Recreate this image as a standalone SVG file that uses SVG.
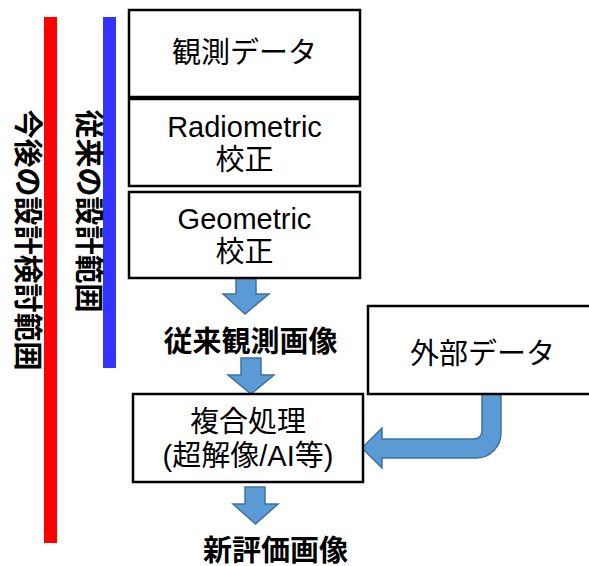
<svg xmlns="http://www.w3.org/2000/svg" width="589" height="566" viewBox="0 0 589 566">
<style>
.t{font-family:"Liberation Sans","Noto Sans CJK JP",sans-serif;font-size:29px;fill:#000;text-anchor:middle}
.b{font-weight:bold}
.box{fill:#fff;stroke:#000;stroke-width:2.5}
.arr{fill:#5B9BD5;stroke:#41719C;stroke-width:1.5;stroke-linejoin:miter}
</style>
<rect width="589" height="566" fill="#fff"/>
<g id="range-future">
<rect x="44" y="17" width="13" height="526" fill="#FF0000"/>
<text class="t b" transform="translate(17,240) rotate(90)">今後の設計検討範囲</text>
</g>
<g id="range-current">
<rect x="103" y="17" width="13" height="351" fill="#3333FF"/>
<text class="t b" transform="translate(78,211) rotate(90)">従来の設計範囲</text>
</g>
<g id="connectors">
<path class="arr" d="M236,278 H256 V294 H269 L245,314 L223,294 H236 Z"/>
<path class="arr" d="M241,358 H261 V375 H274 L251,394 L228,375 H241 Z"/>
<path class="arr" d="M245,487 H265 V504 H278 L255.5,524 L233,504 H245 Z"/>
<path class="arr" d="M482,394 V431 A8,8 0 0 1 474,439 H382 V428 L362,448 L382,468 V458 H476 A25,25 0 0 0 501,433 V394 Z"/>
</g>
<g id="obs-data">
<rect class="box" x="129" y="10" width="231" height="87"/>
<text class="t" x="244.5" y="63">観測データ</text>
</g>
<g id="radiometric">
<rect class="box" x="129" y="99" width="231" height="87"/>
<text class="t" x="244.5" y="137">Radiometric</text>
<text class="t" x="244.5" y="170">校正</text>
</g>
<g id="geometric">
<rect class="box" x="129" y="192" width="231" height="86"/>
<text class="t" x="244.5" y="229">Geometric</text>
<text class="t" x="244.5" y="262">校正</text>
</g>
<g id="conv-image">
<text class="t b" x="250.5" y="352">従来観測画像</text>
</g>
<g id="ext-data">
<rect class="box" x="368" y="306" width="224" height="88"/>
<text class="t" x="482.5" y="364">外部データ</text>
</g>
<g id="composite">
<rect class="box" x="133" y="394" width="230" height="88"/>
<text class="t" x="248" y="432">複合処理</text>
<text class="t" x="248" y="466">(超解像/AI等)</text>
</g>
<g id="new-image">
<text class="t b" x="275.5" y="561">新評価画像</text>
</g>
</svg>
